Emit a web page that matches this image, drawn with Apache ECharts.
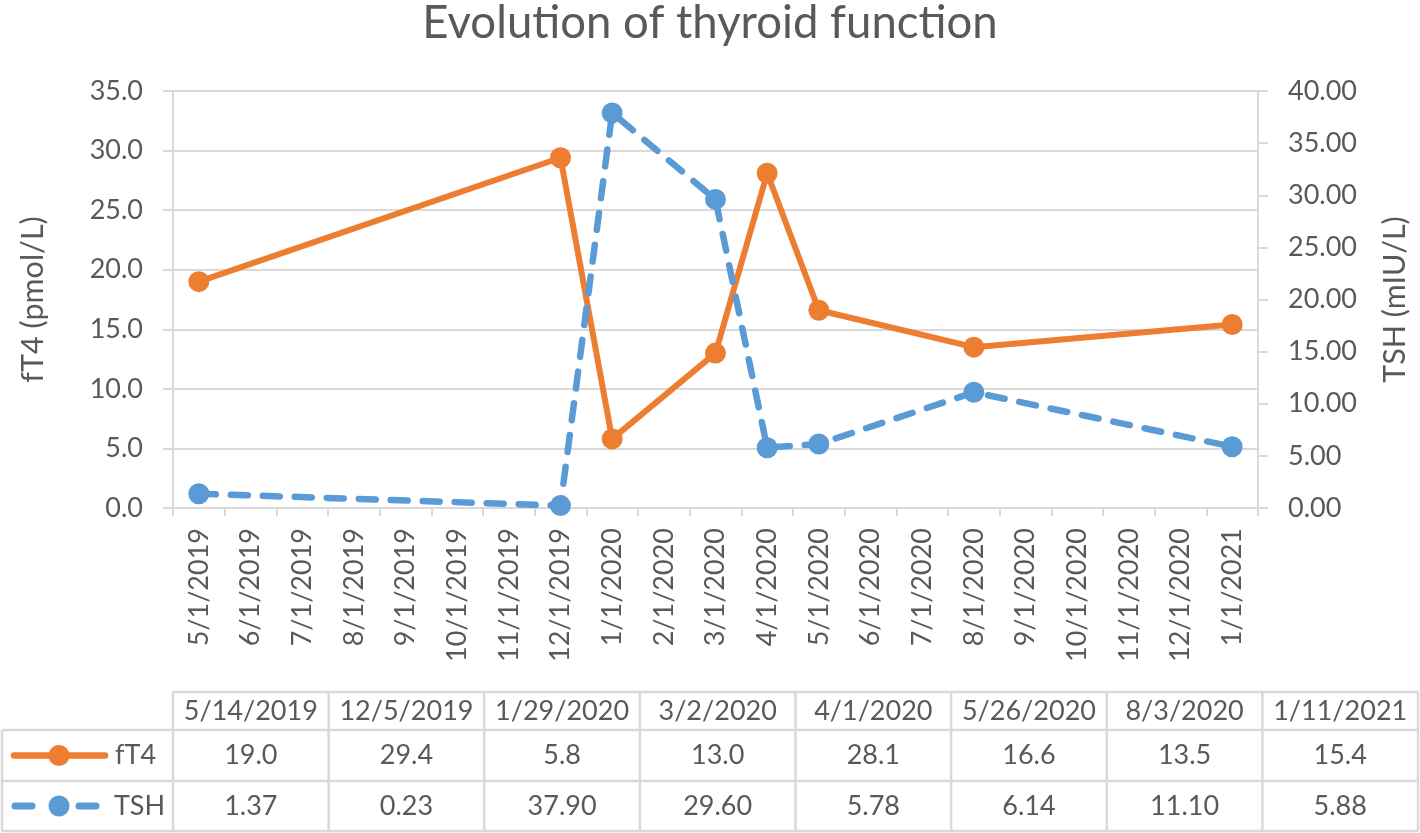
<!DOCTYPE html>
<html>
<head>
<meta charset="utf-8">
<script src="https://cdn.jsdelivr.net/npm/echarts@6/dist/echarts.min.js"></script>
<style>
html,body{margin:0;padding:0;background:#ffffff;}
#chart{width:1420px;height:833px;}
</style>
</head>
<body>
<div id="chart"></div>
<script>
// ---- data ----
const monthLabels = ['5/1/2019','6/1/2019','7/1/2019','8/1/2019','9/1/2019','10/1/2019','11/1/2019','12/1/2019',
  '1/1/2020','2/1/2020','3/1/2020','4/1/2020','5/1/2020','6/1/2020','7/1/2020','8/1/2020','9/1/2020',
  '10/1/2020','11/1/2020','12/1/2020','1/1/2021'];
const sampleDates = ['5/14/2019','12/5/2019','1/29/2020','3/2/2020','4/1/2020','5/26/2020','8/3/2020','1/11/2021'];
const fT4Values = [19.0, 29.4, 5.8, 13.0, 28.1, 16.6, 13.5, 15.4];
const tshValues = [1.37, 0.23, 37.90, 29.60, 5.78, 6.14, 11.10, 5.88];
const seriesNames = ['fT4', 'TSH'];

// ---- styling ----
const FONT = 'Lato';
const TXT = '#595959';
const GRID = '#D9D9D9';
const ORANGE = '#ED7D31';
const BLUE = '#5B9BD5';

function monthOf(d) {
  const p = d.split('/');
  return p[0] + '/1/' + p[2];
}
const fT4Data = sampleDates.map((d, i) => [monthOf(d), fT4Values[i]]);
const tshData = sampleDates.map((d, i) => [monthOf(d), tshValues[i]]);

// ---- data table (graphic) ----
const tbl = { left: 173, right: 1418, legLeft: 2, yHead: 692, y1: 730, y2: 781, y3: 831 };
const colW = (tbl.right - tbl.left) / sampleDates.length;
const graphics = [];
function hline(x1, x2, y) {
  graphics.push({ type: 'line', shape: { x1, y1: y, x2, y2: y }, style: { stroke: GRID, lineWidth: 2.5 }, silent: true });
}
function vline(x, y1, y2) {
  graphics.push({ type: 'line', shape: { x1: x, y1, x2: x, y2 }, style: { stroke: GRID, lineWidth: 2.5 }, silent: true });
}
hline(tbl.left, tbl.right, tbl.yHead);
hline(tbl.legLeft, tbl.right, tbl.y1);
hline(tbl.legLeft, tbl.right, tbl.y2);
hline(tbl.legLeft, tbl.right, tbl.y3);
vline(tbl.legLeft, tbl.y1, tbl.y3);
for (let i = 0; i <= sampleDates.length; i++) vline(tbl.left + i * colW, tbl.yHead, tbl.y3);
function txt(text, x, y, align) {
  graphics.push({ type: 'text', silent: true, style: { text, x, y, align: align || 'center', verticalAlign: 'middle', fontFamily: FONT, fontSize: 27, fill: TXT } });
}
const cyH = (tbl.yHead + tbl.y1) / 2, cy1 = (tbl.y1 + tbl.y2) / 2, cy2 = (tbl.y2 + tbl.y3) / 2;
sampleDates.forEach((d, i) => {
  const cx = tbl.left + (i + 0.5) * colW;
  txt(d, cx, cyH);
  txt(fT4Values[i].toFixed(1), cx, cy1);
  txt(tshValues[i].toFixed(2), cx, cy2);
});
// legend keys
graphics.push({ type: 'line', shape: { x1: 14, y1: cy1, x2: 105, y2: cy1 }, style: { stroke: ORANGE, lineWidth: 6.5, lineCap: 'round' }, silent: true });
graphics.push({ type: 'circle', shape: { cx: 59, cy: cy1, r: 10.5 }, style: { fill: ORANGE }, silent: true });
graphics.push({ type: 'line', shape: { x1: 15, y1: cy2, x2: 32, y2: cy2 }, style: { stroke: BLUE, lineWidth: 7, lineCap: 'round' }, silent: true });
graphics.push({ type: 'line', shape: { x1: 79, y1: cy2, x2: 96, y2: cy2 }, style: { stroke: BLUE, lineWidth: 7, lineCap: 'round' }, silent: true });
graphics.push({ type: 'circle', shape: { cx: 59, cy: cy2, r: 10.5 }, style: { fill: BLUE }, silent: true });
txt(seriesNames[0], 115, cy1, 'left');
txt(seriesNames[1], 114, cy2, 'left');

const chart = echarts.init(document.getElementById('chart'), null, { renderer: 'canvas' });
chart.setOption({
  animation: false,
  backgroundColor: '#ffffff',
  textStyle: { fontFamily: FONT },
  title: {
    text: 'Evolution of thyroid function',
    left: 'center', top: 0, padding: 0,
    textStyle: { fontFamily: FONT, fontSize: 45.5, fontWeight: 'normal', color: TXT }
  },
  grid: { left: 173, right: 162, top: 91, bottom: 325, containLabel: false, outerBoundsMode: 'none' },
  xAxis: {
    type: 'category',
    data: monthLabels,
    boundaryGap: true,
    axisLine: { show: true, lineStyle: { color: GRID, width: 2 } },
    axisTick: { show: true, length: 8, lineStyle: { color: GRID, width: 2 } },
    axisLabel: { rotate: 90, interval: 0, margin: 20, fontFamily: FONT, fontSize: 27, color: TXT },
    splitLine: { show: false }
  },
  yAxis: [
    {
      type: 'value', min: 0, max: 35, interval: 5, position: 'left',
      name: 'fT4 (pmol/L)', nameLocation: 'middle', nameRotate: 90, nameGap: 124,
      nameTextStyle: { fontFamily: FONT, fontSize: 30.5, color: TXT },
      axisLine: { show: true, lineStyle: { color: GRID, width: 2 } },
      axisTick: { show: true, length: 10, lineStyle: { color: GRID, width: 2 } },
      axisLabel: { margin: 30, fontFamily: FONT, fontSize: 27, color: TXT, formatter: v => v.toFixed(1) },
      splitLine: { show: true, lineStyle: { color: GRID, width: 2 } }
    },
    {
      type: 'value', min: 0, max: 40, interval: 5, position: 'right',
      name: 'TSH (mIU/L)', nameLocation: 'middle', nameRotate: 90, nameGap: 122,
      nameTextStyle: { fontFamily: FONT, fontSize: 30.5, color: TXT },
      axisLine: { show: true, lineStyle: { color: GRID, width: 2 } },
      axisTick: { show: true, length: 10, lineStyle: { color: GRID, width: 2 } },
      axisLabel: { margin: 30, fontFamily: FONT, fontSize: 27, color: TXT, formatter: v => v.toFixed(2) },
      splitLine: { show: false }
    }
  ],
  series: [
    {
      name: seriesNames[0], type: 'line', yAxisIndex: 0, data: fT4Data,
      symbol: 'circle', symbolSize: 21, showAllSymbol: true,
      itemStyle: { color: ORANGE },
      lineStyle: { color: ORANGE, width: 6 }
    },
    {
      name: seriesNames[1], type: 'line', yAxisIndex: 1, data: tshData,
      symbol: 'circle', symbolSize: 21, showAllSymbol: true,
      itemStyle: { color: BLUE },
      lineStyle: { color: BLUE, width: 6.5, type: [17, 15], cap: 'round' }
    }
  ],
  graphic: graphics
});
</script>
</body>
</html>
